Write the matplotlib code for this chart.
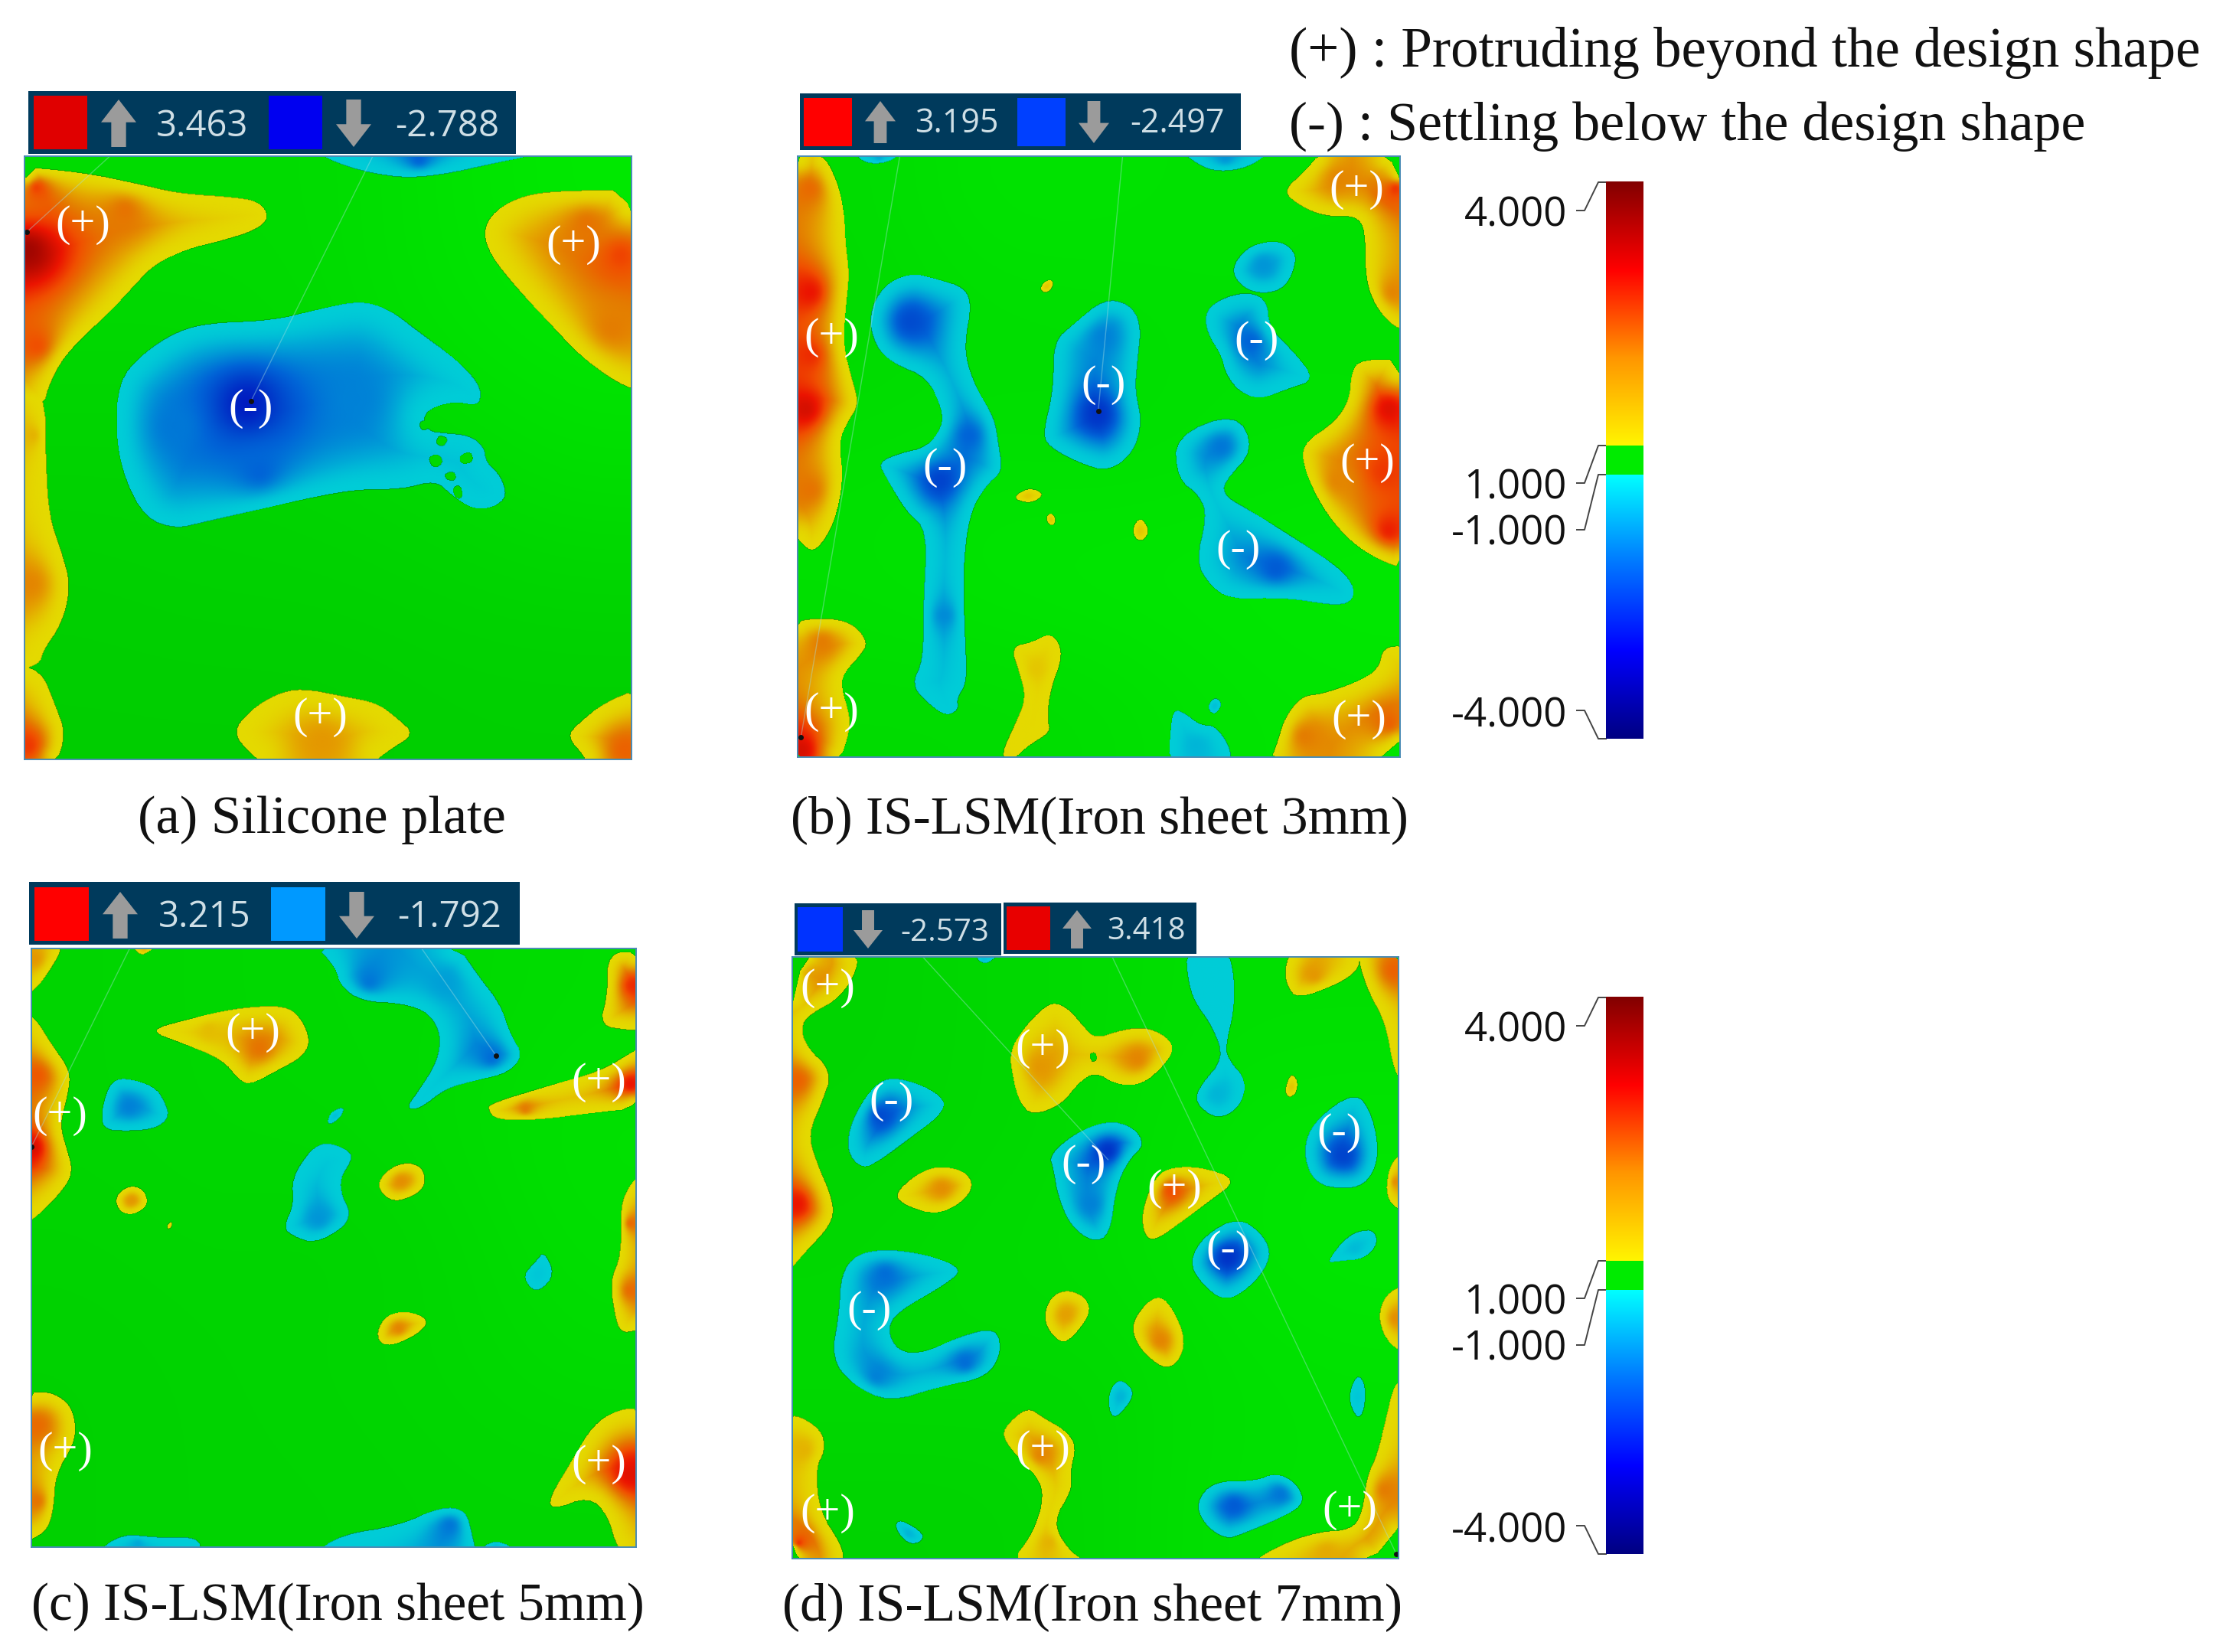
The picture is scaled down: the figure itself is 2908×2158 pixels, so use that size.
import numpy as np
import matplotlib
matplotlib.use("Agg")
import matplotlib.pyplot as plt
from matplotlib.colors import LinearSegmentedColormap, Normalize
from matplotlib.path import Path
from matplotlib.patches import Rectangle, Polygon

W, H = 2908, 2158

# deviation zones: (outline, peaks), peak = (x, y, value) or (value,)
zones_a = [
    ([(20,200),(200,215),(330,240),(430,262),(560,270),(620,280),(645,315),(610,345),(520,370),(450,385),(370,420),(320,470),(260,530),(190,590),(145,640),(115,700),(110,730),(20,730)],
     [(70,390,3.7),(300,300,2.1),(90,600,2.5),(90,250,2.6)]),
    ([(20,650),(110,700),(112,850),(120,980),(150,1060),(172,1135),(150,1220),(105,1280),(98,1310),(20,1330)],
     [(75,1130,1.9),(80,800,1.4)]),
    ([(20,1310),(100,1320),(135,1400),(160,1465),(135,1535),(20,1535)], [(70,1490,2.7)]),
    ([(1530,255),(1350,255),(1250,265),(1180,300),(1152,345),(1170,400),(1230,470),(1310,550),(1380,620),(1450,670),(1500,695),(1530,700)],
     [(1480,400,2.6),(1400,330,2.1),(1460,560,2.0)]),
    ([(555,1460),(600,1410),(660,1375),(720,1362),(820,1380),(900,1395),(950,1430),(990,1465),(930,1500),(880,1535),(640,1535),(600,1510)], [(770,1480,1.7)]),
    ([(1530,1360),(1440,1395),(1380,1440),(1352,1470),(1395,1515),(1400,1540),(1530,1540)], [(1490,1500,2.3)]),
    ([(740,165),(830,205),(950,228),(1050,222),(1180,195),(1260,180),(1300,165)], [(1000,185,-2.0)]),
    ([(285,680),(340,620),(420,570),(500,550),(650,545),(760,520),(860,500),(930,520),(1000,570),(1080,625),(1130,670),(1150,705),(1140,735),(1090,725),(1040,735),(1010,755),(1020,790),(1060,795),(1120,800),(1155,825),(1160,860),(1195,890),(1210,935),(1180,960),(1130,965),(1080,935),(1040,900),(960,920),(860,920),(760,935),(620,965),(480,995),(420,1008),(350,985),(300,900),(278,800)],
     [(590,730,-2.9),(850,720,-1.7),(420,780,-1.8),(620,880,-2.0)]),
]
holes_a = [
    [(1020,850),(1045,840),(1060,860),(1035,875)],
    [(1095,845),(1125,835),(1130,860),(1100,865)],
    [(1060,885),(1085,880),(1090,900),(1065,900)],
    [(1045,800),(1070,805),(1060,825),(1040,820)],
    [(1000,770),(1020,765),(1025,785),(1005,790)],
    [(1080,915),(1100,910),(1105,940),(1085,940)],
    [(1120,760),(1140,750),(1145,775),(1125,780)],
]

zones_b = [
    ([(20,165),(100,170),(135,230),(152,300),(155,370),(165,440),(155,520),(150,600),(170,670),(188,730),(160,770),(140,810),(150,900),(130,990),(100,1040),(75,1058),(50,1040),(20,1000)],
     [(60,740,3.2),(70,480,3.0),(70,250,2.2),(70,920,2.1),(70,620,2.8)]),
    ([(20,1215),(100,1205),(170,1215),(210,1260),(190,1290),(150,1330),(145,1360),(165,1420),(165,1460),(140,1530),(20,1530)],
     [(50,1500,3.2),(100,1260,2.0)]),
    ([(1195,255),(1250,210),(1290,165),(1495,165),(1495,570),(1450,550),(1410,500),(1393,440),(1393,340),(1370,310),(1300,312),(1240,290)],
     [(1465,250,2.7),(1330,230,1.9),(1460,480,1.9)]),
    ([(1495,630),(1380,630),(1360,660),(1355,720),(1320,770),(1240,820),(1250,880),(1290,960),(1350,1030),(1420,1075),(1495,1100)],
     [(1450,740,3.1),(1450,1010,2.9),(1330,900,1.9),(1440,880,2.7)]),
    ([(1495,1268),(1435,1270),(1425,1320),(1370,1350),(1290,1375),(1240,1380),(1200,1430),(1185,1480),(1165,1530),(1495,1530)],
     [(1450,1440,2.3),(1250,1470,2.0)]),
    ([(548,1270),(600,1260),(640,1240),(665,1260),(670,1300),(645,1360),(635,1430),(645,1460),(590,1490),(545,1530),(525,1510),(560,1440),(585,1385),(570,1330)], [(610,1320,1.2)]),
    ([(620,465),(640,450),(653,460),(640,480),(622,480)], [(1.2,)]),
    ([(558,932),(595,915),(630,930),(600,950),(565,945)], [(1.2,)]),
    ([(633,980),(645,970),(657,985),(650,1002),(637,995)], [(1.2,)]),
    ([(838,1005),(858,980),(880,1010),(865,1035),(845,1030)], [(1.2,)]),
    ([(210,530),(245,465),(310,437),(370,450),(440,470),(455,510),(440,590),(445,640),(470,700),(510,760),(520,820),(530,880),(490,910),(450,975),(435,1100),(440,1250),(445,1350),(420,1385),(425,1410),(395,1425),(350,1395),(312,1355),(340,1300),(340,1180),(350,1010),(300,970),(250,890),(233,860),(280,840),(350,825),(385,780),(385,740),(350,670),(270,640),(225,600)],
     [(310,545,-2.3),(380,900,-2.4),(450,800,-2.0),(390,1200,-1.6)]),
    ([(650,590),(700,550),(770,495),(830,505),(860,550),(850,640),(845,700),(862,770),(840,840),(780,880),(710,860),(640,825),(625,795),(650,700)],
     [(757,750,-2.6),(770,580,-1.7)]),
    ([(1072,430),(1110,380),(1170,365),(1210,375),(1232,405),(1205,470),(1150,485),(1100,470)], [(1150,420,-1.5)]),
    ([(1012,520),(1060,490),(1120,480),(1160,500),(1165,560),(1220,610),(1275,675),(1210,695),(1140,720),(1090,700),(1060,660),(1050,620),(1015,570)], [(1120,590,-2.0)]),
    ([(940,800),(1085,747),(1130,830),(1055,905),(1060,935),(1110,962),(1160,990),(1320,1085),(1365,1130),(1365,1165),(1330,1180),(1200,1160),(1070,1165),(1020,1130),(990,1080),(1015,980),(1000,935),(945,895)],
     [(1050,825,-1.8),(1180,1095,-2.1)]),
    ([(935,1410),(960,1415),(1000,1445),(1035,1445),(1070,1490),(1075,1530),(925,1530),(928,1470)], [(990,1490,-1.2)]),
    ([(1018,1400),(1035,1382),(1053,1395),(1040,1418),(1025,1418)], [(-1.1,)]),
    ([(175,165),(195,190),(235,195),(270,185),(290,165)], [(235,180,-1.3)]),
    ([(950,165),(1010,205),(1060,212),(1120,200),(1170,165)], [(1060,180,-1.5)]),
]
holes_b = []

zones_c = [
    ([(60,155),(155,155),(130,205),(85,262),(60,270)], [(85,190,1.7)]),
    ([(315,155),(380,155),(350,180),(330,180)], [(345,170,1.3)]),
    ([(60,315),(85,320),(125,380),(170,440),(165,490),(145,560),(160,610),(177,665),(150,710),(85,770),(60,780)], [(78,610,3.2),(90,450,2.4)]),
    ([(352,350),(450,325),(560,300),(680,293),(720,325),(740,375),(720,410),(660,440),(595,472),(570,460),(530,415),(440,380)], [(620,390,2.1),(500,350,1.3)]),
    ([(1530,175),(1445,175),(1445,270),(1425,340),(1500,350),(1530,350)], [(1505,250,2.8)]),
    ([(1530,385),(1500,400),(1430,440),(1300,475),(1170,512),(1160,525),(1180,550),(1280,550),(1400,535),(1530,522)], [(1500,470,3.0),(1250,525,2.0)]),
    ([(1530,670),(1500,690),(1475,740),(1478,850),(1450,910),(1465,1000),(1480,1025),(1510,1020),(1530,1020)], [(1500,780,2.2),(1500,930,2.2)]),
    ([(275,720),(310,695),(345,705),(355,740),(320,762),(285,755)], [(1.7,)]),
    ([(398,785),(410,775),(412,785),(403,795)], [(1.1,)]),
    ([(897,690),(930,655),(975,643),(1010,660),(1012,705),(950,733),(915,722)], [(1.8,)]),
    ([(897,1020),(920,985),(970,975),(1022,995),(1000,1025),(940,1052),(905,1050)], [(950,1015,1.9)]),
    ([(60,1160),(120,1155),(165,1180),(182,1220),(180,1270),(135,1340),(130,1420),(115,1465),(80,1485),(60,1490)], [(90,1230,2.2),(90,1400,2.1)]),
    ([(1530,1192),(1470,1195),(1410,1230),(1360,1310),(1305,1395),(1315,1420),(1400,1390),(1445,1430),(1470,1515),(1530,1515)], [(1500,1340,3.1)]),
    ([(745,155),(800,210),(810,250),(860,285),(960,290),(1020,310),(1050,360),(1040,420),(1000,480),(965,525),(1000,525),(1060,480),(1130,462),(1210,445),(1245,405),(1215,360),(1190,290),(1140,230),(1085,155)],
     [(880,240,-1.8),(1170,410,-1.9),(1060,240,-1.4)]),
    ([(245,520),(265,465),(300,455),(370,475),(395,510),(405,545),(370,570),(300,575),(245,570)], [(310,520,-1.7)]),
    ([(778,555),(790,530),(820,520),(815,540),(790,560)], [(-1.1,)]),
    ([(695,680),(740,615),(780,598),(835,620),(838,640),(810,680),(815,720),(835,755),(820,790),(750,825),(700,810),(675,790),(700,740)], [(760,770,-1.5)]),
    ([(1245,895),(1275,865),(1295,842),(1320,895),(1285,932),(1260,925)], [(-1.05,)]),
    ([(225,1520),(290,1472),(380,1482),(475,1480),(480,1520)], [(330,1495,-1.3)]),
    ([(745,1520),(810,1475),(950,1455),(1050,1412),(1110,1420),(1125,1480),(1135,1520)], [(1070,1455,-1.8)]),
    ([(1125,1520),(1180,1482),(1245,1520)], [(1180,1498,-1.1)]),
]
holes_c = []

zones_d = [
    ([(15,125),(190,125),(175,190),(130,240),(85,262),(50,290),(60,340),(125,400),(100,470),(68,540),(85,600),(130,700),(120,750),(60,810),(15,860)],
     [(40,160,2.9),(40,700,3.0),(40,420,2.3)]),
    ([(15,1185),(45,1180),(100,1215),(108,1260),(85,1300),(95,1400),(150,1480),(150,1520),(15,1520)], [(45,1470,2.7),(55,1260,1.4)]),
    ([(1200,165),(1215,125),(1375,125),(1380,165),(1330,200),(1230,235),(1205,205)], [(1270,180,1.7)]),
    ([(1375,125),(1490,125),(1490,435),(1460,400),(1440,290),(1400,220),(1380,165)], [(1460,170,2.3)]),
    ([(1490,585),(1455,600),(1440,660),(1450,700),(1490,720)], [(1465,650,1.8)]),
    ([(1490,880),(1440,905),(1422,955),(1440,1010),(1490,1045)], [(1465,960,1.8)]),
    ([(1490,1095),(1460,1110),(1440,1190),(1420,1270),(1395,1320),(1385,1400),(1360,1440),(1280,1445),(1200,1470),(1135,1505),(1125,1520),(1490,1520)],
     [(1465,1495,3.4),(1440,1350,2.0),(1300,1490,1.5)]),
    ([(545,355),(580,300),(625,255),(655,242),(690,260),(720,295),(750,325),(810,305),(870,298),(920,320),(938,350),(910,390),(860,430),(800,430),(750,400),(710,425),(670,475),(600,500),(570,470),(555,420)],
     [(620,390,1.7),(850,370,1.9)]),
    ([(270,680),(320,635),(375,613),(440,625),(462,660),(430,700),(370,725),(300,705)], [(385,665,1.8)]),
    ([(860,720),(885,650),(920,618),(1000,615),(1090,645),(1020,695),(950,745),(890,785),(865,770)], [(930,670,2.5)]),
    ([(628,945),(650,905),(690,895),(730,915),(738,950),(700,1000),(670,1018),(635,985)], [(1.6,)]),
    ([(838,970),(870,925),(905,908),(935,940),(963,1000),(955,1050),(920,1078),(870,1045),(842,1005)], [(905,1010,1.9)]),
    ([(1200,440),(1215,402),(1232,420),(1228,450),(1208,460)], [(1.2,)]),
    ([(530,1210),(588,1160),(625,1185),(680,1215),(705,1250),(690,1310),(695,1350),(650,1420),(680,1480),(735,1520),(545,1520),(600,1450),(625,1380),(620,1330),(570,1280),(535,1240)],
     [(620,1270,1.9),(640,1470,1.4)]),
    ([(157,580),(170,510),(215,440),(260,410),(340,430),(395,465),(380,500),(310,550),(240,600),(195,622)], [(240,500,-2.3)]),
    ([(640,590),(700,540),(780,510),(840,525),(868,565),(830,600),(800,660),(785,770),(745,788),(690,750),(660,680),(650,620)], [(780,580,-2.6),(740,700,-1.7)]),
    ([(1242,580),(1270,510),(1370,443),(1410,500),(1425,590),(1400,650),(1350,668),(1270,655)], [(1340,590,-2.4)]),
    ([(973,830),(1010,770),(1090,730),(1150,770),(1170,820),(1130,880),(1060,925),(1000,880)], [(1065,820,-2.6)]),
    ([(1298,835),(1350,770),(1410,755),(1423,790),(1390,825),(1330,830)], [(-1.15,)]),
    ([(965,125),(1065,125),(1080,180),(1080,260),(1060,340),(1065,370),(1110,420),(1095,480),(1040,510),(985,470),(1000,430),(1055,370),(1030,300),(985,240),(970,190)], [(1040,450,-1.2)]),
    ([(145,860),(180,815),(250,802),(350,815),(438,848),(390,885),(280,945),(255,985),(280,1035),(340,1040),(430,1000),(515,980),(527,1040),(490,1095),(380,1115),(260,1152),(170,1110),(122,1050),(140,950)],
     [(250,860,-1.9),(440,1060,-1.9),(230,1090,-1.7)]),
    ([(778,1135),(805,1095),(840,1120),(835,1150),(790,1195)], [(-1.2,)]),
    ([(1350,1140),(1372,1085),(1393,1110),(1390,1170),(1372,1190)], [(-1.05,)]),
    ([(272,1435),(285,1415),(345,1450),(330,1472),(300,1470)], [(-1.2,)]),
    ([(988,1380),(1030,1330),(1130,1330),(1180,1310),(1230,1335),(1248,1380),(1200,1410),(1100,1450),(1060,1462),(1010,1430)], [(1080,1385,-2.1),(1190,1360,-1.8)]),
    ([(455,125),(530,125),(485,162)], [(485,145,-1.1)]),
]
holes_d = [[(735,360),(750,355),(755,372),(742,380)]]

# green zone shading inside +-1 tolerance, coarse read of each panel
green_a = [[.2,.2,.2,.6,.9],[.0,.0,.2,.5,.7],[-.2,-.2,-.1,.1,.4],[-.4,-.3,-.3,-.2,-.1],[-.5,-.5,-.5,-.4,-.4]]
green_b = [[.2,.6,.6,.5,.5],[.1,.3,.3,.5,.4],[.4,.5,.4,.5,.6],[.5,.7,.8,.8,.9],[.2,.2,.3,.6,.7]]
green_c = [[-.1,.0,.1,.1,.3],[-.1,.0,.0,.2,.5],[-.2,-.1,-.2,.0,.4],[-.3,-.2,-.1,.0,.2],[-.3,-.2,-.2,-.1,-.1]]
green_d = [[-.2,.0,.2,.4,.4],[-.1,.0,.2,.6,.7],[.0,.2,.3,.6,.8],[.1,.1,.0,.4,.5],[-.2,-.2,.0,.5,.5]]

signs_a = [("(+)",200,330),("(+)",1368,375),("(-)",600,738),("(+)",765,1423)]
signs_b = [("(+)",122,578),("(+)",1372,250),("(-)",770,685),("(-)",1133,585),("(-)",392,868),("(+)",1398,858),("(-)",1090,1050),("(+)",122,1412),("(+)",1378,1428)]
signs_c = [("(+)",603,352),("(+)",145,538),("(+)",1423,463),("(+)",158,1285),("(+)",1423,1315)]
signs_d = [("(+)",115,208),("(+)",625,345),("(-)",266,465),("(-)",722,608),("(-)",1330,537),("(+)",937,663),("(-)",1066,802),("(-)",213,940),("(+)",625,1255),("(+)",115,1400),("(+)",1355,1393)]

captions = ["(a) Silicone plate", "(b) IS-LSM(Iron sheet 3mm)", "(c) IS-LSM(Iron sheet 5mm)", "(d) IS-LSM(Iron sheet 7mm)"]
note_lines = ["(+) : Protruding beyond the design shape", "(-) : Settling below the design shape"]
scale_labels = ["4.000", "1.000", "-1.000", "-4.000"]
max_values = ["3.463", "3.195", "3.215", "3.418"]
min_values = ["-2.788", "-2.497", "-1.792", "-2.573"]


def make_cmap(stops):
    return LinearSegmentedColormap.from_list("dev", [((v + 4) / 8, tuple(x / 255 for x in c)) for v, c in stops], N=4096)


norm = Normalize(-4, 4)
bar_cmap = make_cmap([(-4,(0,0,130)),(-3,(0,0,255)),(-2,(0,120,255)),(-1.001,(0,255,255)),(-1,(0,235,0)),(1,(0,235,0)),
                      (1.001,(255,245,0)),(2,(255,150,0)),(3,(255,0,0)),(4,(130,0,0))])
map_cmap = make_cmap([(-4,(0,0,130)),(-3,(0,20,190)),(-2,(0,100,215)),(-1.3,(0,170,215)),(-1.001,(0,205,215)),(-1,(0,200,0)),(1,(0,230,0)),
                      (1.001,(228,218,0)),(1.5,(228,170,0)),(2,(228,125,0)),(2.5,(240,80,0)),(3,(235,20,0)),(4,(130,0,0))])
green_cmap = LinearSegmentedColormap.from_list("gr", [(0,196/255,0),(0,235/255,0)])


def smooth(pts, n=2):
    p = np.array(pts, float)
    for _ in range(n):
        q = np.roll(p, -1, axis=0)
        p = np.column_stack([0.75 * p + 0.25 * q, 0.25 * p + 0.75 * q]).reshape(-1, 2)
    return p


def build_field(zones, holes, frame, n=800):
    x0, x1, y0, y1 = frame
    xs = np.linspace(x0, x1, n)
    ys = np.linspace(y0, y1, n)
    sx = (x1 - x0) / 790.0
    sy = (y1 - y0) / 790.0
    field = np.full((n, n), np.nan)
    for outline, peaks in zones:
        p = smooth(outline)
        i0, i1 = np.searchsorted(xs, [p[:, 0].min(), p[:, 0].max()])
        j0, j1 = np.searchsorted(ys, [p[:, 1].min(), p[:, 1].max()])
        if i1 <= i0 or j1 <= j0:
            continue
        gx, gy = np.meshgrid(xs[i0:i1], ys[j0:j1])
        q = np.column_stack([gx.ravel(), gy.ravel()])
        q = q[Path(p).contains_points(q)]
        if len(q) == 0:
            continue
        # boundary points that lie inside the panel only
        seg = np.roll(p, -1, axis=0) - p
        edge = []
        for a, s in zip(p, seg):
            k = max(2, int(np.hypot(s[0] / sx, s[1] / sy) / 3))
            edge.append(a + np.linspace(0, 1, k, endpoint=False)[:, None] * s)
        edge = np.vstack(edge)
        keep = (edge[:, 0] > x0 + 3) & (edge[:, 0] < x1 - 3) & (edge[:, 1] > y0 + 3) & (edge[:, 1] < y1 - 3)
        edge = edge[keep]
        sign = 1.0 if peaks[0][-1] > 0 else -1.0
        d = np.full(len(q), 1e9)
        if len(edge):
            for c in range(0, len(q), 4000):
                b = q[c:c + 4000]
                dd = np.hypot((b[:, 0, None] - edge[:, 0]) / sx, (b[:, 1, None] - edge[:, 1]) / sy)
                d[c:c + 4000] = dd.min(axis=1)
        w_sum = 1.0 / np.maximum(d, 0.5) ** 2
        v_sum = sign * w_sum
        for pk in peaks:
            if len(pk) == 1:
                px, py, val = np.mean(outline, axis=0).tolist() + [pk[0]]
            else:
                px, py, val = pk
            r = np.hypot((q[:, 0] - px) / sx, (q[:, 1] - py) / sy)
            w = 1.0 / np.maximum(r, 0.5) ** 2
            w_sum += w
            v_sum += val * w
        v = v_sum / w_sum
        ix = np.searchsorted(xs, q[:, 0])
        iy = np.searchsorted(ys, q[:, 1])
        cur = field[iy, ix]
        if sign > 0:
            field[iy, ix] = np.fmax(cur, v)
        else:
            field[iy, ix] = np.fmin(cur, v)
    gx, gy = np.meshgrid(xs, ys)
    q = np.column_stack([gx.ravel(), gy.ravel()])
    for h in holes:
        field[Path(smooth(h)).contains_points(q).reshape(n, n)] = np.nan
    return np.ma.masked_invalid(field)


fig = plt.figure(figsize=(W / 100, H / 100), dpi=100, facecolor="white")

# panel box in full pixels, and outline frame
panels = [
    dict(box=(32, 825, 204, 992), frame=(62, 1505, 180, 1520), zones=zones_a, holes=holes_a, green=green_a, signs=signs_a,
         leaders=[((265,180),(68,348)),((890,180),(600,725))], dots=[(68,348),(600,725)]),
    dict(box=(1042, 1829, 204, 989), frame=(42, 1475, 178, 1515), zones=zones_b, holes=holes_b, green=green_b, signs=signs_b,
         leaders=[((285,178),(50,1470)),((815,178),(757,745))], dots=[(50,1470),(757,745)]),
    dict(box=(41, 831, 1239, 2021), frame=(78, 1512, 168, 1502), zones=zones_c, holes=holes_c, green=green_c, signs=signs_c,
         leaders=[((310,170),(78,610)),((1005,170),(1180,407))], dots=[(78,610),(1180,407)]),
    dict(box=(1035, 1827, 1250, 2036), frame=(30, 1470, 140, 1505), zones=zones_d, holes=holes_d, green=green_d, signs=signs_d,
         leaders=[((340,140),(780,600)),((790,140),(1465,1495))], dots=[(1465,1495)]),
]

for pn in panels:
    bx0, bx1, by0, by1 = pn["box"]
    fx0, fx1, fy0, fy1 = pn["frame"]
    ax = fig.add_axes([bx0 / W, 1 - by1 / H, (bx1 - bx0) / W, (by1 - by0) / H])
    ext = (fx0, fx1, fy1, fy0)
    ax.imshow(pn["green"], cmap=green_cmap, vmin=-1, vmax=1, extent=ext, interpolation="bicubic", aspect="auto")
    ax.imshow(build_field(pn["zones"], pn["holes"], pn["frame"]), cmap=map_cmap, norm=norm, extent=ext,
              interpolation="bilinear", interpolation_stage="rgba", aspect="auto")
    for a, b in pn["leaders"]:
        ax.plot([a[0], b[0]], [a[1], b[1]], color="#a8e0e0", lw=1.0, alpha=0.4)
    for d in pn["dots"]:
        ax.plot(d[0], d[1], "o", color="#111111", ms=4)
    for s, x, y in pn["signs"]:
        ax.text(x, y + 3, s, color="white", family="Liberation Serif", fontsize=42, ha="center", va="center")
    ax.set_xlim(fx0, fx1)
    ax.set_ylim(fy1, fy0)
    ax.set_xticks([])
    ax.set_yticks([])
    for sp in ax.spines.values():
        sp.set_color("#4a8bb5")
        sp.set_linewidth(1.4)

# page level things in pixel coordinates
top = fig.add_axes([0, 0, 1, 1], facecolor="none")
top.set_xlim(0, W)
top.set_ylim(H, 0)
top.axis("off")
BADGE = "#003a5c"
GREY = "#9b9b9b"
TXT = "#cfdfe6"


def arrow(cx, y0, y1, hw, up):
    sw = hw * 0.42
    head = (y1 - y0) * 0.48
    if up:
        pts = [(cx, y0), (cx + hw, y0 + head), (cx + sw, y0 + head), (cx + sw, y1), (cx - sw, y1), (cx - sw, y0 + head), (cx - hw, y0 + head)]
    else:
        pts = [(cx, y1), (cx + hw, y1 - head), (cx + sw, y1 - head), (cx + sw, y0), (cx - sw, y0), (cx - sw, y1 - head), (cx - hw, y1 - head)]
    top.add_patch(Polygon(pts, closed=True, color=GREY, lw=0))


def box(x0, x1, y0, y1, c):
    top.add_patch(Rectangle((x0, y0), x1 - x0, y1 - y0, color=c, lw=0))


box(37, 674, 119, 201, BADGE)
box(44, 114, 125, 195, "#e00000")
arrow(155, 130, 192, 23, True)
top.text(264, 165, max_values[0], color=TXT, family="Open Sans", fontsize=34, ha="center", va="center")
box(351, 421, 125, 195, "#0000f0")
arrow(462, 130, 192, 23, False)
top.text(584, 165, min_values[0], color=TXT, family="Open Sans", fontsize=34, ha="center", va="center")

box(1045, 1621, 122, 196, BADGE)
box(1050, 1113, 128, 191, "#ff0000")
arrow(1150, 132, 187, 20, True)
top.text(1250, 162, max_values[1], color=TXT, family="Open Sans", fontsize=31, ha="center", va="center")
box(1329, 1392, 128, 191, "#0040ff")
arrow(1429, 132, 187, 20, False)
top.text(1538, 162, min_values[1], color=TXT, family="Open Sans", fontsize=31, ha="center", va="center")

box(38, 679, 1152, 1234, BADGE)
box(45, 116, 1159, 1229, "#ff0000")
arrow(157, 1165, 1226, 23, True)
top.text(267, 1198, max_values[2], color=TXT, family="Open Sans", fontsize=34, ha="center", va="center")
box(354, 425, 1159, 1229, "#0099ff")
arrow(466, 1165, 1226, 23, False)
top.text(587, 1198, min_values[2], color=TXT, family="Open Sans", fontsize=34, ha="center", va="center")

box(1038, 1308, 1180, 1248, BADGE)
box(1042, 1101, 1185, 1243, "#0033ff")
arrow(1134, 1189, 1239, 19, False)
top.text(1234, 1219, min_values[3], color=TXT, family="Open Sans", fontsize=29, ha="center", va="center")
box(1311, 1563, 1179, 1246, BADGE)
box(1315, 1372, 1184, 1241, "#e80000")
arrow(1407, 1189, 1239, 19, True)
top.text(1497, 1217, max_values[3], color=TXT, family="Open Sans", fontsize=29, ha="center", va="center")

# colour scales, upper and lower part stretched over the same height, green band narrow
bar_values = np.concatenate([np.linspace(4, 1.002, 345), np.zeros(38), np.linspace(-1.002, -4, 345)])
for dy in (0, 1065):
    cax = fig.add_axes([2098 / W, 1 - (965 + dy) / H, 49 / W, 728 / H])
    cax.imshow(bar_values[:, None], cmap=bar_cmap, norm=norm, aspect="auto", interpolation="nearest")
    cax.axis("off")
    elbow_y = [(275, 238), (631, 582), (692, 620), (928, 965)]
    label_y = [282, 638, 698, 936]
    for lab, (ya, yb), ly in zip(scale_labels, elbow_y, label_y):
        top.plot([2060, 2070, 2088, 2098], [ya + dy, ya + dy, yb + dy, yb + dy], color="#444444", lw=1.4)
        top.text(2047, ly + dy, lab, family="Open Sans", fontsize=38, color="#111111", ha="right", va="center")


def fit_text(x0, x1, yc, s):
    t = top.text(x0, yc, s, family="Liberation Serif", fontsize=40, color="#111111", ha="left", va="center")
    w = t.get_window_extent(fig.canvas.get_renderer()).width
    t.set_fontsize(40 * (x1 - x0) / w)


fit_text(180, 660, 1071, captions[0])
fit_text(1033, 1840, 1071, captions[1])
fit_text(41, 840, 2099, captions[2])
fit_text(1022, 1832, 2099, captions[3])
fit_text(1684, 2873, 69, note_lines[0])
fit_text(1684, 2721, 165, note_lines[1])

fig.savefig("out.png", dpi=100, facecolor="white")
